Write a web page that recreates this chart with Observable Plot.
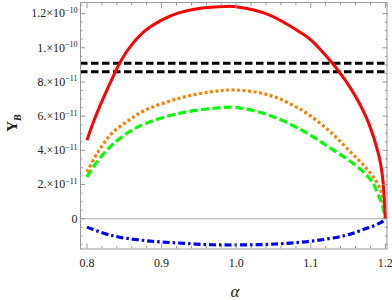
<!DOCTYPE html>
<html><head><meta charset="utf-8">
<script src="https://cdn.jsdelivr.net/npm/d3@7"></script>
<script src="https://cdn.jsdelivr.net/npm/@observablehq/plot@0.6"></script>
<style>html,body{margin:0;padding:0;background:#fff}svg{display:block}</style>
</head><body><div id="chart"></div>
<script>
const unit = 1e-11;

// red solid
const redAlpha = [0.800,0.806,0.815,0.825,0.837,0.842,0.856,0.878,0.900,0.923,0.950,0.985,1.000,1.044,1.088,1.100,1.129,1.146,1.162,1.178,1.191,1.196,1.200];
const redY     = [4.59, 5.35, 6.35, 7.35, 8.50, 8.95, 9.95, 11.00,11.62,12.04,12.30,12.42,12.40,11.93,10.85,10.47,9.10, 8.12, 7.00, 5.55, 3.75, 2.55, 0.00];
// orange dotted
const orangeAlpha = [0.800,0.815,0.833,0.856,0.878,0.923,0.967,0.999,1.044,1.088,1.124,1.151,1.173,1.187,1.1935,1.1975,1.200];
const orangeY     = [2.74, 3.92, 4.98, 5.76, 6.35, 7.04, 7.43, 7.53, 7.23, 6.35, 5.17, 4.01, 3.03, 2.24, 1.70,  1.00,  0.00];
// green dashed
const greenAlpha = [0.800,0.815,0.833,0.856,0.878,0.923,0.967,0.999,1.044,1.088,1.124,1.151,1.173,1.184,1.190,1.196,1.200];
const greenY     = [2.45, 3.42, 4.29, 5.07, 5.57, 6.16, 6.45, 6.51, 6.06, 5.18, 4.20, 3.42, 2.64, 2.05, 1.45, 0.80, 0.00];
// blue dot-dashed
const blueAlpha = [0.800,0.833,0.878,0.923,0.967,1.012,1.057,1.101,1.146,1.173,1.191,1.199,1.200];
const blueY     = [-0.49,-0.98,-1.28,-1.42,-1.52,-1.53,-1.47,-1.31,-0.98,-0.59,-0.29,-0.06,0.00];
// black dashed horizontal bounds
const boundY = [9.1, 8.6];

const xTicks = [0.8, 0.9, 1.0, 1.1, 1.2];
const xTickLabels = ["0.8", "0.9", "1.0", "1.1", "1.2"];
const yTicks = [0, 2, 4, 6, 8, 10, 12];
const yTickMantissa = ["0", "2.", "4.", "6.", "8.", "1.", "1.2"];
const yTickExponent = ["", "\u221211", "\u221211", "\u221211", "\u221211", "\u221210", "\u221210"];
const xLabel = "\u03b1";
const yLabelMain = "Y";
const yLabelSub = "B";

const toRows = (al, ys) => al.map((a, i) => ({a, y: ys[i] * unit}));
const redData = toRows(redAlpha, redY);
const orangeData = toRows(orangeAlpha, orangeY);
const greenData = toRows(greenAlpha, greenY);
const blueData = toRows(blueAlpha, blueY);
const boundData = boundY.map(v => v * unit);

const yMajor = yTicks.map(v => v * unit);
const yMinor = d3.range(-1.5, 12.6, 0.5).filter(v => Math.abs(v / 2 - Math.round(v / 2)) > 1e-6).map(v => v * unit);
const xMinor = d3.range(0.80, 1.2001, 0.02).filter(v => Math.abs(v * 10 - Math.round(v * 10)) > 1e-6);

const frameColor = "#999";
const font = "Liberation Serif";
const blank = () => "";

const styles = [
  {stroke: "#0000ff", w: 3.2, dash: "7,3,2.5,3"},
  {stroke: "#00ff00", w: 3.2, dash: "8,3.5"},
  {stroke: "#ff8000", w: 3.2, dash: "3,2.5"},
  {stroke: "#ff0000", w: 3, dash: null}
];
const [sBlue, sGreen, sOrange, sRed] = styles;

const chart = Plot.plot({
  width: 392, height: 300,
  marginLeft: 80, marginRight: 5.5, marginTop: 2, marginBottom: 51.5,
  style: {fontFamily: font, fontSize: "12px", color: "#222", background: "#fff"},
  x: {domain: [0.7913, 1.2022]},
  y: {domain: [-1.77e-11, 12.65e-11]},
  marks: [
    Plot.ruleY([0], {stroke: "#aaa", strokeWidth: 1}),
    Plot.ruleY(boundData, {stroke: "#000", strokeWidth: 3, strokeDasharray: "7.5,3.5"}),
    Plot.line(blueData, {x: "a", y: "y", stroke: sBlue.stroke, strokeWidth: sBlue.w, strokeDasharray: sBlue.dash, curve: "catmull-rom"}),
    Plot.line(greenData, {x: "a", y: "y", stroke: sGreen.stroke, strokeWidth: sGreen.w, strokeDasharray: sGreen.dash, curve: "catmull-rom"}),
    Plot.line(orangeData, {x: "a", y: "y", stroke: sOrange.stroke, strokeWidth: sOrange.w, strokeDasharray: sOrange.dash, curve: "catmull-rom"}),
    Plot.line(redData, {x: "a", y: "y", stroke: sRed.stroke, strokeWidth: sRed.w, curve: "catmull-rom"}),
    Plot.frame({stroke: frameColor}),
    Plot.axisX(xTicks, {anchor: "bottom", tickSize: -5, tickPadding: 14, stroke: frameColor, fill: "#222", tickFormat: (d, i) => xTickLabels[i], label: null, fontSize: 12, fontFamily: font}),
    Plot.axisX(xMinor, {anchor: "bottom", tickSize: -2.5, stroke: frameColor, tickFormat: blank, label: null}),
    Plot.axisX(xTicks, {anchor: "top", tickSize: -5, stroke: frameColor, tickFormat: blank, label: null}),
    Plot.axisX(xMinor, {anchor: "top", tickSize: -2.5, stroke: frameColor, tickFormat: blank, label: null}),
    Plot.axisY(yMajor, {anchor: "left", tickSize: -5, tickPadding: 8, stroke: frameColor, fill: "#222", tickFormat: (d, i) => yTickMantissa[i], label: null, fontSize: 12, fontFamily: font}),
    Plot.axisY(yMinor, {anchor: "left", tickSize: -2.5, stroke: frameColor, tickFormat: blank, label: null}),
    Plot.axisY(yMajor, {anchor: "right", tickSize: -5, stroke: frameColor, tickFormat: blank, label: null}),
    Plot.axisY(yMinor, {anchor: "right", tickSize: -2.5, stroke: frameColor, tickFormat: blank, label: null})
  ]
});

document.getElementById("chart").appendChild(chart);
const svg = d3.select(chart);

// make sure the dash patterns land on the line paths themselves
for (const s of styles) {
  svg.selectAll(`g[aria-label='line'][stroke='${s.stroke}'] path`)
    .attr("stroke-dasharray", s.dash).attr("stroke-linecap", "butt");
}

// superscript exponents on y tick labels
svg.selectAll("g[aria-label='y-axis tick label'] text").each(function() {
  const t = this.textContent;
  const i = yTickMantissa.indexOf(t);
  if (i > 0) {
    const el = d3.select(this);
    el.text(null);
    el.append("tspan").text(t + "\u00d710");
    el.append("tspan").attr("font-size", 8).attr("dy", "-0.55em").text(yTickExponent[i]);
  }
});
svg.selectAll("text").attr("font-family", font);

// axis titles
svg.append("text")
  .attr("x", 235).attr("y", 297)
  .attr("text-anchor", "middle")
  .attr("font-family", font).attr("font-style", "italic").attr("font-size", 17).attr("fill", "#222")
  .text(xLabel);
const yl = svg.append("text")
  .attr("transform", "translate(17,123) rotate(-90)")
  .attr("text-anchor", "middle")
  .attr("font-family", font).attr("font-weight", "bold").attr("font-size", 15).attr("fill", "#222");
yl.append("tspan").text(yLabelMain);
yl.append("tspan").attr("font-size", 10).attr("font-style", "italic").attr("dy", "0.35em").text(yLabelSub);
</script>
</body></html>
